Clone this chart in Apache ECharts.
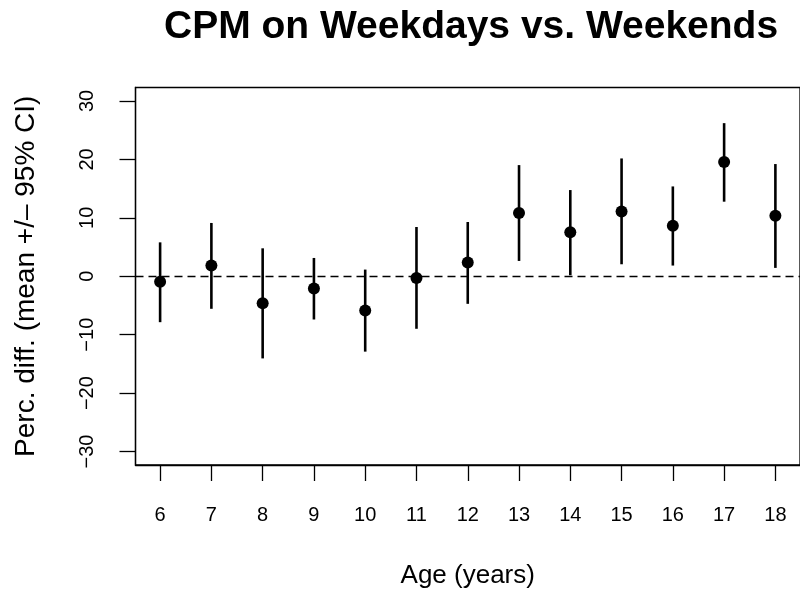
<!DOCTYPE html>
<html>
<head>
<meta charset="utf-8">
<script src="https://cdn.jsdelivr.net/npm/echarts@6/dist/echarts.min.js"></script>
<style>html,body{margin:0;padding:0;background:#fff}#c{width:800px;height:594px}</style>
</head>
<body>
<div id="c"></div>
<script>
const ages = [6, 7, 8, 9, 10, 11, 12, 13, 14, 15, 16, 17, 18];
const means = [-0.96, 1.83, -4.61, -2.1, -5.86, -0.28, 2.34, 10.82, 7.52, 11.1, 8.66, 19.54, 10.37];
const lower = [-7.86, -5.57, -14.06, -7.4, -12.9, -8.99, -4.72, 2.62, 0.17, 2.05, 1.83, 12.76, 1.43];
const upper = [5.8, 9.12, 4.78, 3.13, 1.14, 8.43, 9.28, 19.02, 14.75, 20.16, 15.37, 26.2, 19.2];
const xTicks = [6, 7, 8, 9, 10, 11, 12, 13, 14, 15, 16, 17, 18];
const yTicks = [-30, -20, -10, 0, 10, 20, 30];

const FONT = '"Liberation Sans", Arial, Helvetica, sans-serif';
const chart = echarts.init(document.getElementById('c'), null, {renderer: 'canvas'});
const ciData = ages.map((a, i) => [a, lower[i], upper[i]]);
const ptData = ages.map((a, i) => [a, means[i]]);

chart.setOption({
  animation: false,
  backgroundColor: '#ffffff',
  title: {
    text: 'CPM on Weekdays vs. Weekends',
    left: 164, top: 8, padding: 0,
    textStyle: {fontFamily: FONT, fontSize: 39, fontWeight: 'bold', color: '#000'}
  },
  grid: {
    left: 135.5, right: -5, top: 87.5, bottom: 128,
    show: true, borderColor: '#000', borderWidth: 1.3, backgroundColor: 'transparent'
  },
  xAxis: {
    type: 'value', min: 5.52, max: 18.48,
    name: 'Age (years)', nameLocation: 'middle', nameGap: 98,
    nameTextStyle: {fontFamily: FONT, fontSize: 26, color: '#000'},
    axisLine: {show: true, onZero: false, lineStyle: {color: '#000', width: 1.3}},
    axisTick: {show: true, inside: false, length: 16, customValues: xTicks, lineStyle: {color: '#000', width: 1.3}},
    axisLabel: {customValues: xTicks, margin: 40, fontFamily: FONT, fontSize: 20, color: '#000'},
    splitLine: {show: false}
  },
  yAxis: {
    type: 'value', min: -32.3, max: 32.3,
    name: 'Perc. diff. (mean +/\u2013 95% CI)', nameLocation: 'middle', nameGap: 95,
    nameTextStyle: {fontFamily: FONT, fontSize: 28, color: '#000'},
    axisLine: {show: true, onZero: false, lineStyle: {color: '#000', width: 1.3}},
    axisTick: {show: true, inside: false, length: 16, customValues: yTicks, lineStyle: {color: '#000', width: 1.3}},
    axisLabel: {customValues: yTicks, rotate: 90, margin: 38, fontFamily: FONT, fontSize: 20, color: '#000',
      formatter: v => (v < 0 ? '\u2212' + Math.abs(v) : String(v))},
    splitLine: {show: false}
  },
  series: [
    {
      type: 'custom',
      data: ciData,
      encode: {x: 0, y: [1, 2]},
      renderItem: function (params, api) {
        const p1 = api.coord([api.value(0), api.value(1)]);
        const p2 = api.coord([api.value(0), api.value(2)]);
        return {type: 'line', shape: {x1: p1[0], y1: p1[1], x2: p2[0], y2: p2[1]},
          style: {stroke: '#000', lineWidth: 2.6}};
      },
      markLine: {
        silent: true, symbol: 'none', label: {show: false},
        lineStyle: {color: '#000', type: [8, 5], width: 1.3},
        data: [{yAxis: 0}]
      },
      z: 2
    },
    {
      type: 'scatter',
      data: ptData,
      symbol: 'circle', symbolSize: 12,
      itemStyle: {color: '#000', opacity: 1},
      z: 3
    }
  ]
});
</script>
</body>
</html>
